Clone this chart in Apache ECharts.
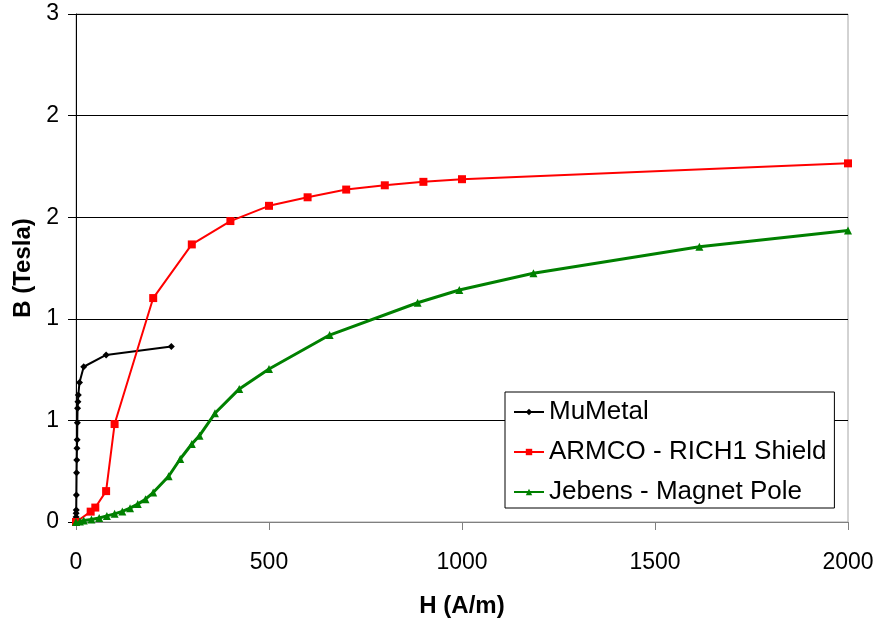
<!DOCTYPE html>
<html>
<head>
<meta charset="utf-8">
<script src="https://cdn.jsdelivr.net/npm/echarts@6/dist/echarts.min.js"></script>
<style>
  html, body { margin: 0; padding: 0; background: #fff; }
  #chart { width: 880px; height: 624px; }
</style>
</head>
<body>
<div id="chart"></div>
<script>
// Magnetisation curves: field strength H (A/m) against flux density B (Tesla)
const seriesNames = ['MuMetal', 'ARMCO - RICH1 Shield', 'Jebens - Magnet Pole'];

const muMetalH = [0, 0.2, 0.4, 0.6, 1, 1.5, 2, 2.5, 3, 3.5, 4, 5, 6, 9, 20, 78, 247];
const muMetalB = [0, 0.025, 0.043, 0.059, 0.133, 0.242, 0.305, 0.363, 0.405, 0.489, 0.56, 0.592, 0.625, 0.686, 0.764, 0.822, 0.864];

const armcoH = [0, 38, 50, 78, 100, 200, 300, 400, 500, 600, 700, 800, 900, 1000, 2000];
const armcoB = [0, 0.051, 0.071, 0.152, 0.482, 1.102, 1.366, 1.481, 1.556, 1.598, 1.636, 1.657, 1.674, 1.687, 1.765];

const jebensH = [0, 10, 20, 40, 60, 80, 100, 120, 140, 160, 180, 200, 240, 270, 300, 320, 360, 423, 500, 657, 885, 993, 1185, 1615, 2000];
const jebensB = [0, 0.003, 0.007, 0.012, 0.02, 0.03, 0.04, 0.052, 0.068, 0.088, 0.112, 0.145, 0.225, 0.31, 0.384, 0.425, 0.535, 0.655, 0.753, 0.92, 1.079, 1.142, 1.224, 1.355, 1.434];

const xTickValues = [0, 500, 1000, 1500, 2000];
const yTickLabels = ['0', '1', '1', '2', '2', '3'];

const pairs = (hs, bs) => hs.map((h, i) => [h, bs[i]]);

const font = 'Liberation Sans, Arial, sans-serif';
const chart = echarts.init(document.getElementById('chart'), null, { renderer: 'canvas' });

chart.setOption({
  animation: false,
  backgroundColor: '#ffffff',
  grid: {
    left: 76, right: 32, top: 14, bottom: 102,
    show: true, borderColor: '#a6a6a6', borderWidth: 1, backgroundColor: 'transparent'
  },
  xAxis: {
    type: 'value',
    min: xTickValues[0], max: xTickValues[xTickValues.length - 1], interval: 500,
    name: 'H (A/m)', nameLocation: 'middle', nameGap: 72,
    nameTextStyle: { fontFamily: font, fontSize: 24, fontWeight: 'bold', color: '#000' },
    axisLine: { lineStyle: { color: '#808080', width: 1 } },
    axisTick: { show: true, inside: false, length: 8, lineStyle: { color: '#808080' } },
    axisLabel: {
      fontFamily: font, fontSize: 23, color: '#000', margin: 29,
      formatter: (v) => String(v)
    },
    splitLine: { show: false }
  },
  yAxis: {
    type: 'value',
    min: 0, max: 2.5, interval: 0.5,
    name: 'B (Tesla)', nameLocation: 'middle', nameGap: 31, nameRotate: 90,
    nameTextStyle: { fontFamily: font, fontSize: 24, fontWeight: 'bold', color: '#000' },
    axisLine: { lineStyle: { color: '#000', width: 1 } },
    axisTick: { show: true, inside: false, length: 8, lineStyle: { color: '#000' } },
    axisLabel: {
      fontFamily: font, fontSize: 23, color: '#000', margin: 17,
      formatter: (v, i) => yTickLabels[i]
    },
    splitLine: { show: true, lineStyle: { color: '#000', width: 1 } }
  },
  legend: {
    orient: 'vertical',
    left: 505, top: 392,
    backgroundColor: '#fff',
    borderColor: '#000', borderWidth: 1, borderRadius: 0,
    padding: [7, 8, 3, 8],
    itemWidth: 30, itemHeight: 8, itemGap: 14,
    textStyle: { fontFamily: font, fontSize: 26, color: '#000' },
    data: seriesNames
  },
  series: [
    {
      name: seriesNames[0], type: 'line', data: pairs(muMetalH, muMetalB),
      symbol: 'diamond', symbolSize: 7,
      lineStyle: { color: '#000', width: 2 }, itemStyle: { color: '#000' }
    },
    {
      name: seriesNames[1], type: 'line', data: pairs(armcoH, armcoB),
      symbol: 'rect', symbolSize: 8,
      lineStyle: { color: '#ff0000', width: 2 }, itemStyle: { color: '#ff0000' }
    },
    {
      name: seriesNames[2], type: 'line', data: pairs(jebensH, jebensB),
      symbol: 'triangle', symbolSize: 8,
      lineStyle: { color: '#008000', width: 3 }, itemStyle: { color: '#008000' }
    }
  ]
});
</script>
</body>
</html>
